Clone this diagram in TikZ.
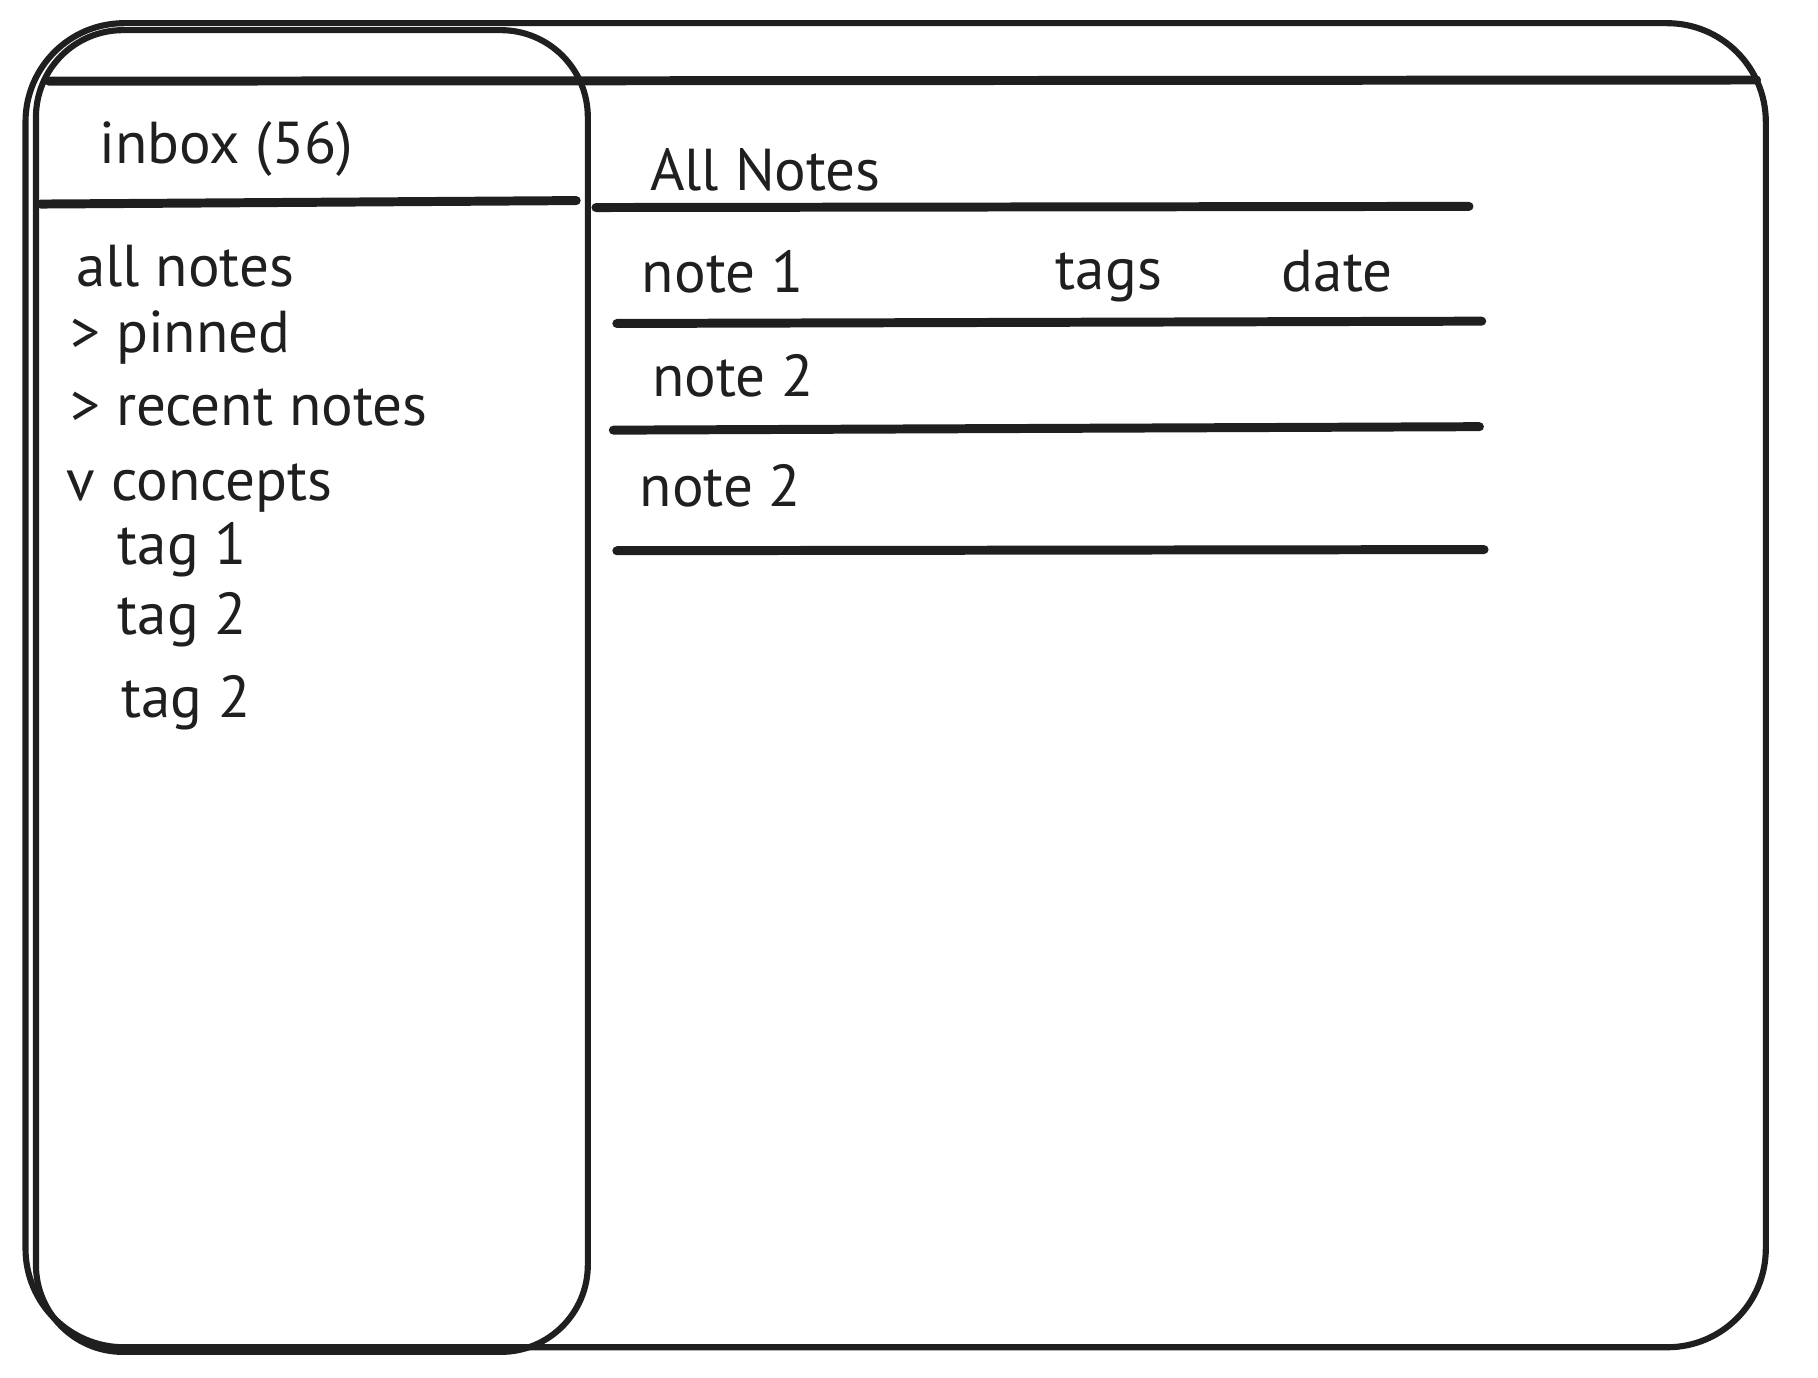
\documentclass[tikz,border=0pt]{standalone}
\usepackage{fontspec}
\setmainfont{PT Sans}

\begin{document}
\begin{tikzpicture}[x=0.01cm,y=-0.01cm,
      font=\fontsize{14.5}{16}\selectfont,
      frame style/.style={draw=black!88,line width=1.5pt,rounded corners=0.85cm},
      rule style/.style={draw=black!88,line width=2.2pt,line cap=round},
      item style/.style={anchor=base west,inner sep=0pt,text=black!88}
      ]
      \useasboundingbox (0,0) rectangle (1568,1188);
      % window and sidebar
      \draw[frame style] (22,20) rectangle (1523,1162);
      \draw[frame style,rounded corners=0.75cm] (31,26) rectangle (507,1166);
      \draw[rule style] (42,70) -- (1515,69);
      \draw[rule style] (35,176) -- (497,173);
      % sidebar
      \node[item style] (inbox) at (85,141) {inbox (56)};
      \node[item style] (all) at (65,247) {all notes};
      \node[item style] (pinned) at (60,304) {> pinned};
      \node[item style] (recent) at (60,367) {> recent notes};
      \node[item style] (concepts) at (57,432) {v concepts};
      \node[item style] (tag1) at (101,487) {tag 1};
      \node[item style] (tag2) at (101,547) {tag 2};
      \node[item style] (tag3) at (104,619) {tag 2};
      % note list
      \node[item style] (title) at (560,164) {All Notes};
      \draw[rule style] (514,179) -- (1267,178);
      \node[item style] (note1) at (553,252) {note 1};
      \node[item style] (tags) at (910,250) {tags};
      \node[item style] (date) at (1105,251) {date};
      \draw[rule style] (532,279) -- (1278,277);
      \node[item style] (note2) at (562,342) {note 2};
      \draw[rule style] (529,371) -- (1276,368);
      \node[item style] (note3) at (551,437) {note 2};
      \draw[rule style] (532,475) -- (1280,474);
    \end{tikzpicture}
\end{document}
